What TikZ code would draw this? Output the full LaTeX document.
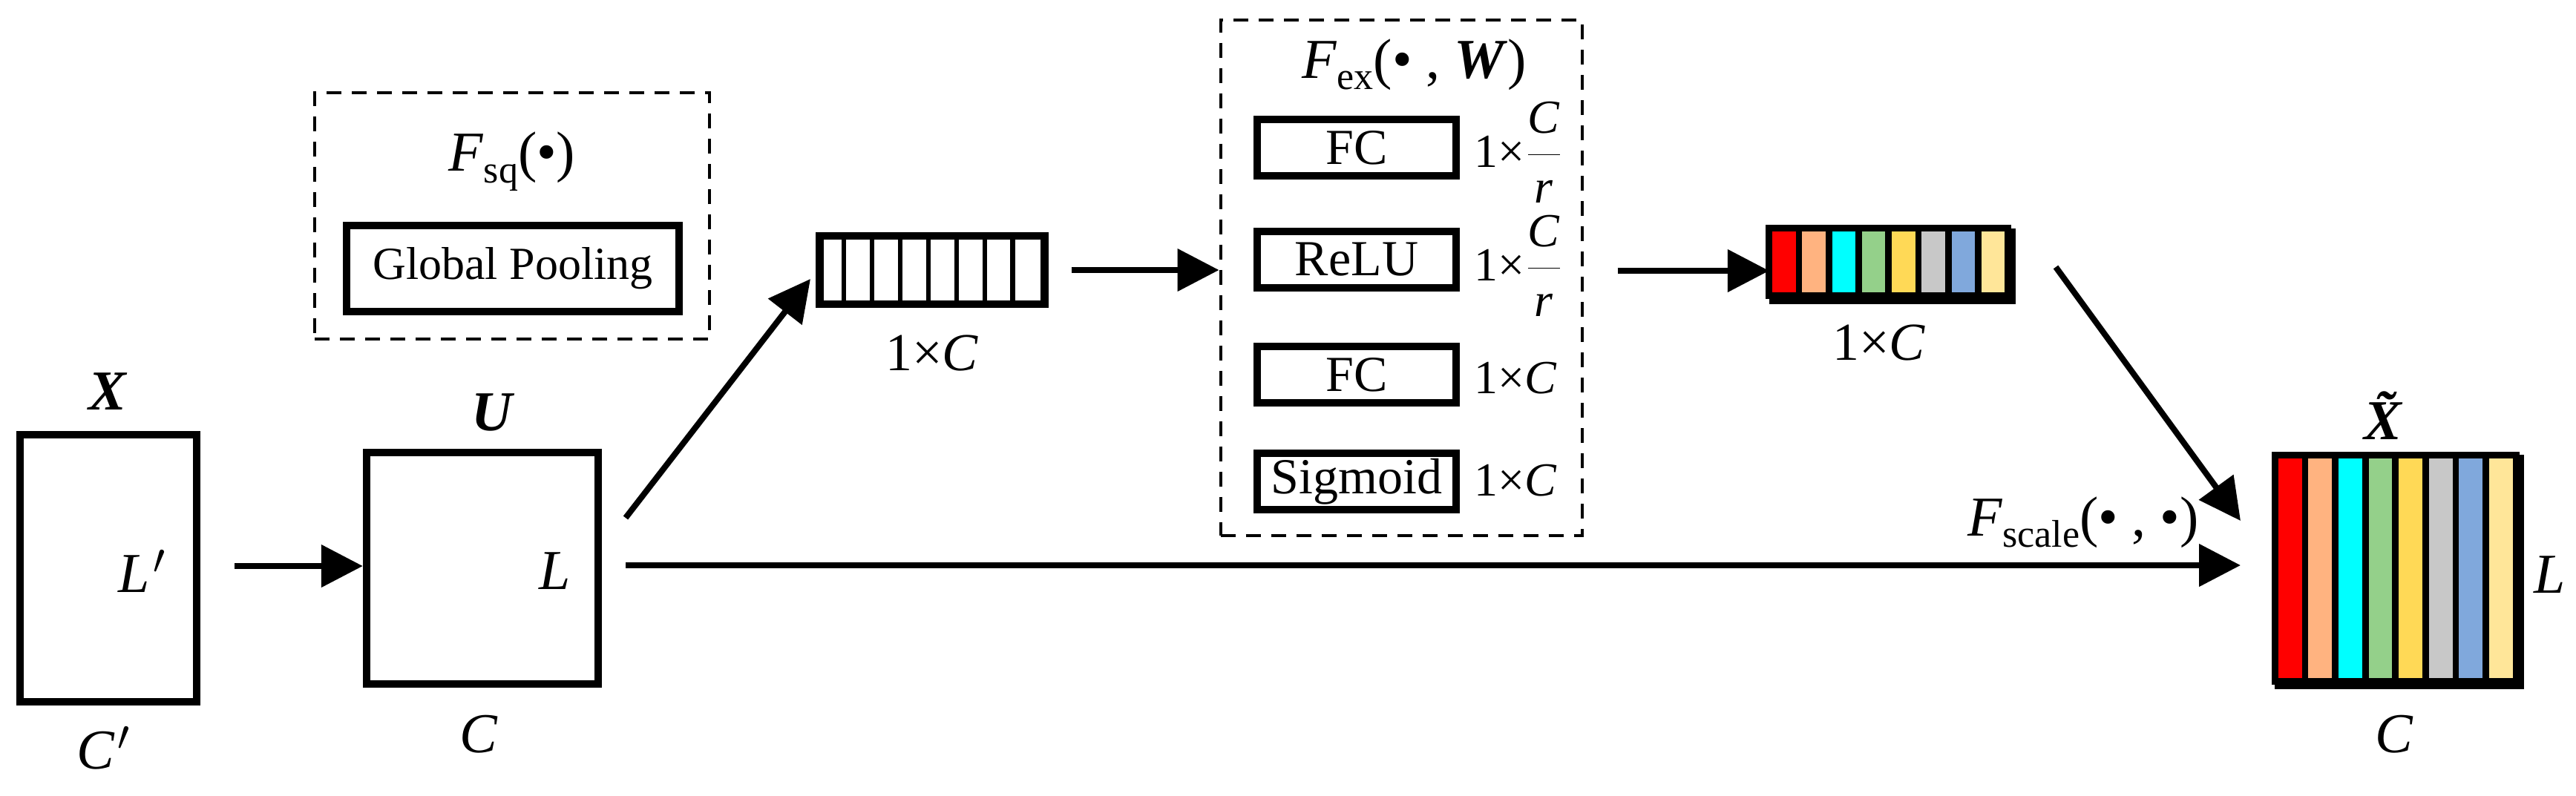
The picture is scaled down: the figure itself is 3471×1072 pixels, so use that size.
\documentclass[tikz,border=0pt]{standalone}
\usepackage{fontspec}
\setmainfont{Liberation Serif}
\usetikzlibrary{arrows.meta,calc}
\definecolor{cRed}{HTML}{FF0000}
\definecolor{cOrange}{HTML}{FFB380}
\definecolor{cCyan}{HTML}{00FFFF}
\definecolor{cGreen}{HTML}{94D08A}
\definecolor{cYellow}{HTML}{FFD956}
\definecolor{cGray}{HTML}{C8C8C8}
\definecolor{cBlue}{HTML}{80A8DC}
\definecolor{cPale}{HTML}{FFE699}
\newcommand{\subF}[1]{\textit{F}\raisebox{-0.45ex}{\fontsize{13}{13}\selectfont #1}}
\newcommand{\frC}{1×$\displaystyle\frac{\mbox{\itshape C}}{\mbox{\itshape r}}$}
\tikzset{every picture/.style={line width=2pt},
  map/.style={draw, line width=2.6pt, inner sep=0pt},
  layer/.style={draw, line width=2.4pt, inner sep=0pt, minimum width=67pt, minimum height=19pt, font=\fontsize{17}{18}\selectfont},
  group/.style={draw, dashed, line width=1pt, dash pattern=on 5pt off 3.5pt, inner sep=0pt},
  arr/.style={line width=2pt, -{Triangle[length=14pt,width=14pt]}},
  lbl/.style={font=\fontsize{19}{20}\selectfont},
  dim/.style={font=\fontsize{16}{17}\selectfont, anchor=west, inner sep=0pt}}

\begin{document}
\begin{tikzpicture}[x=0.25pt,y=0.25pt,yscale=-1,xscale=1]
\useasboundingbox (0,0) rectangle (3471,1072);

%Squeeze group
\node[group, minimum width=133pt, minimum height=83pt] (sqbox) at (690,291) {};
\node[lbl] (sqtitle) at (690,218) {\subF{sq}(\textbullet)};
\node[layer, minimum width=112pt, minimum height=29pt, font=\fontsize{15.5}{16}\selectfont] (pool) at (691,362) {Global Pooling};

%Input X and U
\node[map, minimum width=59.5pt, minimum height=90pt] (X) at (146,766) {};
\node[lbl] at (146,528) {\textbf{\textit{X}}};
\node[lbl] at (192,770) {\textit{L}\kern1pt$'$};
\node[lbl] at (140,1008) {\textit{C}\kern1pt$'$};
\node[map, minimum width=78pt, minimum height=78pt] (U) at (650,766) {};
\node[lbl] at (665,556) {\textbf{\textit{U}}};
\node[lbl] at (748,770) {\textit{L}};
\node[lbl] at (645,990) {\textit{C}};
\draw[arr] (X.east) ++(46,-3) coordinate (xs) -- (U.west |- xs);

%Squeezed vector
\node[map, minimum width=75.75pt, minimum height=23pt] (sq) at (1256,364) {};
\foreach \i in {1,...,7}
  \draw[line width=1.6pt] ($(sq.west)+(\i*37.9,-46)$) -- ++(0,92);
\node[lbl, font=\fontsize{18}{18}\selectfont] at (1256,476) {1×\textit{C}};
\coordinate (us) at (843,698);
\draw[arr] (us) -- (1092,376) coordinate (sqin);
\coordinate (ul) at (843,762);

%Excitation group
\node[group, minimum width=121.75pt, minimum height=173.75pt] (exbox) at (1888,374) {};
\node[lbl] at (1906,87) {\subF{ex}(\textbullet\ , \textbf{\textit{W}})};
\node[layer] (fc1) at (1828,199) {FC};
\node[layer] (relu) at (1828,350) {ReLU};
\node[layer] (fc2) at (1828,505) {FC};
\node[layer] (sig) at (1828,649) {Sigmoid};
\node[dim] at (1982,205) {\frC};
\node[dim] at (1982,358) {\frC};
\node[dim] at (1982,510) {1×\textit{C}};
\node[dim] at (1982,648) {1×\textit{C}};
\draw[arr] (sq.east) ++(31,0) -- (exbox.west |- sq.east);

%Excited vector
\node[map, minimum width=80.5pt, minimum height=23pt] (ex) at (2550,359) {};
\foreach \c [count=\i from 0] in {cRed,cOrange,cCyan,cGreen,cYellow,cGray,cBlue,cPale}
  \draw[line width=2.2pt, fill=\c] ($(ex.north west)+(\i*40.25,0)$) rectangle ++(40.25,91);
\node[lbl, font=\fontsize{18}{18}\selectfont] at (2532,462) {1×\textit{C}};
\draw[arr] (exbox.east) ++(46,-9) coordinate (es) -- (ex.west |- es);

%Scaled output
\node[map, minimum width=81.25pt, minimum height=76.25pt] (Xt) at (3233,771) {};
\foreach \c [count=\i from 0] in {cRed,cOrange,cCyan,cGreen,cYellow,cGray,cBlue,cPale}
  \draw[line width=2.2pt, fill=\c] ($(Xt.north west)+(\i*40.6,0)$) rectangle ++(40.6,305);
\node[lbl] at (3226,560) {\textbf{\textit{\~X}}};
\node[lbl] at (3436,775) {\textit{L}};
\node[lbl] at (3226,990) {\textit{C}};
\coordinate (es2) at (2770,360);
\coordinate (xtin) at (3019,702);
\coordinate (xtl) at (3019,762);
\draw[arr] (es2) -- (xtin);
\draw[arr] (ul) -- (xtl);
\node[lbl] at (2807,704) {\subF{scale}(\textbullet\ , \textbullet)};

\end{tikzpicture}
\end{document}
